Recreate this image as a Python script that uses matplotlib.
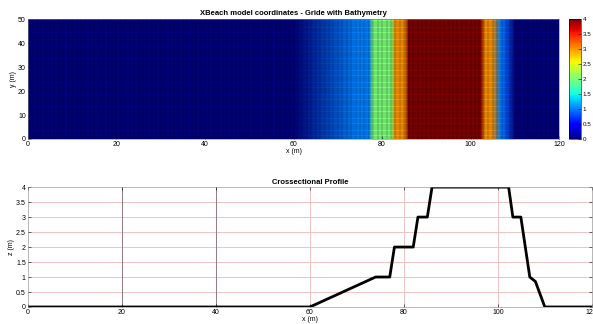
import matplotlib.pyplot as plt
import numpy as np

plt.rcParams["font.family"] = ["Liberation Sans", "DejaVu Sans"]
plt.rcParams["font.size"] = 5

# cross-shore profile breakpoints
profile_x = [0, 60, 74, 77, 78, 82, 83, 85, 86, 102.3, 103.2, 104.9, 106.8, 108, 110, 120]
profile_z = [0, 0, 1, 1, 2, 2, 3, 3, 4, 4, 3, 3, 1, 0.85, 0, 0]

domain_y = [0, 50]
grid_step = 1.0

x_ticks = [0, 20, 40, 60, 80, 100, 120]
y_ticks = [0, 10, 20, 30, 40, 50]
z_ticks = [0, 0.5, 1, 1.5, 2, 2.5, 3, 3.5, 4]

fig = plt.figure(figsize=(5.93, 3.24), dpi=100)
ax_top = fig.add_axes([0.047, 0.571, 0.896, 0.370])
cax = fig.add_axes([0.9595, 0.571, 0.020, 0.370])
ax_bot = fig.add_axes([0.047, 0.0525, 0.951, 0.370])

# ===== plan view of the bathymetry on the model grid =====
xx, yy = np.meshgrid(profile_x, domain_y)
zz = np.tile(profile_z, (len(domain_y), 1))
mesh = ax_top.pcolormesh(xx, yy, zz, cmap="jet", vmin=0, vmax=4, shading="gouraud")

# grid cell edges
gx = np.arange(0, 120 + grid_step, grid_step)
gy = np.arange(0, 50 + grid_step, grid_step)
ax_top.vlines(gx, 0, 50, colors="k", linewidth=0.3, alpha=0.55)
ax_top.hlines(gy, 0, 120, colors="k", linewidth=0.3, alpha=0.55)

ax_top.set_xlim(0, 120)
ax_top.set_ylim(0, 50)
ax_top.set_xticks(x_ticks)
ax_top.set_yticks(y_ticks)
ax_top.set_xlabel("x (m)", labelpad=0)
ax_top.set_ylabel("y (m)", labelpad=1)
ax_top.set_title("XBeach model coordinates - Gride with Bathymetry", fontweight="bold", fontsize=5.5, pad=3)
ax_top.tick_params(direction="in", length=2, width=0.4, pad=1.5)
for sp in ax_top.spines.values():
    sp.set_linewidth(0.4)
    sp.set_color("#808080")

cb = fig.colorbar(mesh, cax=cax, ticks=z_ticks)
cb.ax.set_yticklabels([f"{t:g}" for t in z_ticks])
cb.ax.tick_params(direction="in", length=2, width=0.4, pad=1.5, labelsize=4.5)
cb.outline.set_linewidth(0.4)

# ===== cross-sectional profile =====
for zv in z_ticks[1:-1]:
    ax_bot.axhline(zv, color="#efc4c4", linewidth=0.72, zorder=0.5)
for xv in x_ticks[1:-1]:
    ax_bot.axvline(xv, color="#9a7c86" if xv < 60 else "#efc4c4", linewidth=0.72, zorder=0.6)
ax_bot.plot(profile_x, profile_z, color="k", linewidth=2)
ax_bot.set_xlim(0, 120)
ax_bot.set_ylim(0, 4)
ax_bot.set_xticks(x_ticks)
ax_bot.set_yticks(z_ticks)
ax_bot.set_yticklabels([f"{t:g}" for t in z_ticks])
ax_bot.set_xlabel("x (m)", labelpad=0)
ax_bot.set_ylabel("z (m)", labelpad=1)
ax_bot.set_title("Crossectional Profile", fontweight="bold", fontsize=5.5, pad=2)
ax_bot.tick_params(direction="in", length=2, width=0.4, pad=1.5, right=True, top=True)
for sp in ax_bot.spines.values():
    sp.set_linewidth(0.4)
    sp.set_color("#808080")

fig.savefig("out.png", dpi=100)
